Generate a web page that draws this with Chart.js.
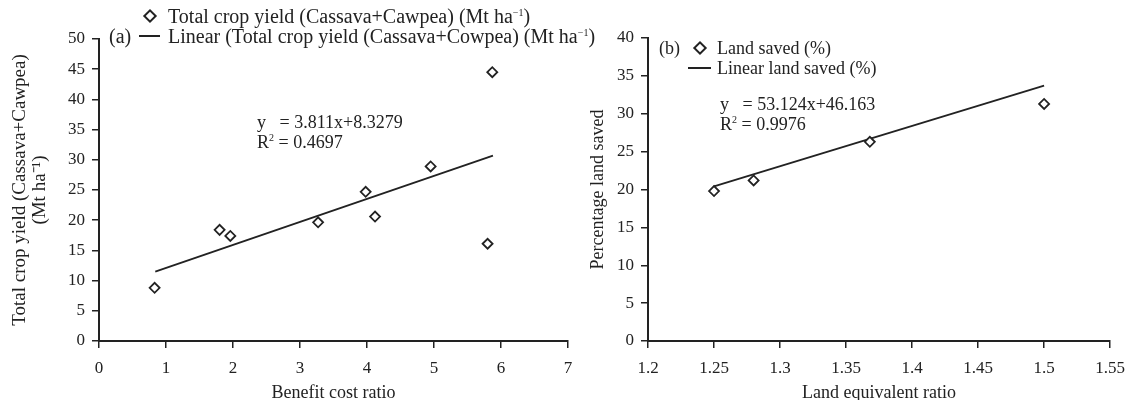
<!DOCTYPE html>
<html>
<head>
<meta charset="utf-8">
<script src="https://cdn.jsdelivr.net/npm/chart.js@4.4.0/dist/chart.umd.min.js"></script>
<style>
    html, body { margin: 0; padding: 0; background: #fff; }
    body {
        width: 1135px; height: 400px; position: relative; overflow: hidden;
        font-family: "Liberation Serif", "Times New Roman", serif; color: #222;
    }
    canvas { position: absolute; top: 0; }
    #chartA { left: 0; }
    #chartB { left: 560px; }
    .txt { position: absolute; font-size: 18px; line-height: 20px; height: 20px; white-space: nowrap; }
    .txt.big { font-size: 20px; }
    .txt sup { font-size: 10px; line-height: 0; vertical-align: 7px; }
    .diamond { position: absolute; width: 6px; height: 6px; border: 2px solid #222; background: #fff; transform: rotate(45deg); }
    .seg { position: absolute; height: 0; border-top: 2px solid #222; }
</style>
</head>
<body>
<canvas id="chartA" width="600" height="400"></canvas>
<canvas id="chartB" width="575" height="400"></canvas>

<!-- leyenda y ecuación (a) -->
<div class="diamond" style="left:145px; top:11px;"></div>
<div class="txt big" style="left:168px; top:6px;">Total crop yield (Cassava+Cawpea) (Mt ha<sup>&minus;1</sup>)</div>
<div class="txt big" style="left:109px; top:26px;">(a)</div>
<div class="seg" style="left:139px; top:35px; width:21px;"></div>
<div class="txt big" style="left:168px; top:26px;">Linear (Total crop yield (Cassava+Cowpea) (Mt ha<sup>&minus;1</sup>)</div>
<div class="txt" style="left:257px; top:112px;">y&nbsp;&nbsp; = 3.811x+8.3279</div>
<div class="txt" style="left:257px; top:132px;">R<sup>2</sup> = 0.4697</div>

<!-- leyenda y ecuación (b) -->
<div class="txt" style="left:659px; top:38px;">(b)</div>
<div class="diamond" style="left:695px; top:43px;"></div>
<div class="txt" style="left:717px; top:38px;">Land saved (%)</div>
<div class="seg" style="left:688px; top:67px; width:23px;"></div>
<div class="txt" style="left:717px; top:58px;">Linear land saved (%)</div>
<div class="txt" style="left:720px; top:94px;">y&nbsp;&nbsp; = 53.124x+46.163</div>
<div class="txt" style="left:720px; top:114px;">R<sup>2</sup> = 0.9976</div>

<script>
// Datos del panel (a): rendimiento total vs relación beneficio/costo
const bcrX = [0.83, 1.80, 1.96, 3.27, 3.98, 4.12, 4.95, 5.80, 5.87];
const yieldY = [8.8, 18.4, 17.4, 19.65, 24.7, 20.6, 28.9, 16.1, 44.5];
const yieldTrendX = [0.84, 5.88];
const yieldTrendY = [11.5, 30.7];
const xTicksA = [0, 1, 2, 3, 4, 5, 6, 7];
const yTicksA = [0, 5, 10, 15, 20, 25, 30, 35, 40, 45, 50];

// Datos del panel (b): tierra ahorrada vs LER
const lerX = [1.25, 1.28, 1.368, 1.50];
const landSavedY = [19.8, 21.2, 26.3, 31.3];
const landTrendX = [1.25, 1.50];
const landTrendY = [20.4, 33.7];
const xTicksB = ['1.2', '1.25', '1.3', '1.35', '1.4', '1.45', '1.5', '1.55'];
const yTicksB = [0, 5, 10, 15, 20, 25, 30, 35, 40];

const ink = '#222';
Chart.defaults.font.family = "'Liberation Serif', 'Times New Roman', serif";
Chart.defaults.color = ink;

function toPoints(xs, ys) {
    return xs.map((x, i) => ({ x: x, y: ys[i] }));
}

function axis(min, max, step, title, extra) {
    return Object.assign({
        type: 'linear',
        min: min,
        max: max,
        border: { display: true, color: ink, width: 2 },
        grid: { display: true, drawOnChartArea: false, drawTicks: true, tickLength: 7, color: ink, lineWidth: 1.5 },
        ticks: { stepSize: step, color: ink, font: { size: 17 } },
        title: { display: true, text: title, color: ink, font: { size: 18 } }
    }, extra);
}

function buildChart(id, cfg) {
    return new Chart(document.getElementById(id), {
        type: 'scatter',
        data: {
            datasets: [{
                data: toPoints(cfg.xs, cfg.ys),
                pointStyle: 'rectRot',
                pointRadius: 5,
                borderWidth: 1.8,
                borderColor: ink,
                backgroundColor: '#fff',
                order: 1
            }, {
                data: toPoints(cfg.trendX, cfg.trendY),
                showLine: true,
                pointRadius: 0,
                borderWidth: 1.8,
                borderColor: ink,
                order: 2
            }]
        },
        options: {
            responsive: false,
            animation: false,
            layout: { padding: cfg.padding },
            plugins: { legend: { display: false }, tooltip: { enabled: false } },
            scales: {
                x: axis(cfg.xMin, cfg.xMax, cfg.xStep, cfg.xTitle, {
                    afterFit: s => { s.height = 59; }
                }),
                y: axis(cfg.yMin, cfg.yMax, 5, cfg.yTitle, {
                    afterFit: s => { s.width = cfg.yWidth; }
                })
            }
        }
    });
}

const chartA = buildChart('chartA', {
    xs: bcrX, ys: yieldY, trendX: yieldTrendX, trendY: yieldTrendY,
    xMin: xTicksA[0], xMax: xTicksA[xTicksA.length - 1], xStep: 1,
    yMin: yTicksA[0], yMax: yTicksA[yTicksA.length - 1],
    xTitle: 'Benefit cost ratio',
    yTitle: ['Total crop yield (Cassava+Cawpea)', '(Mt ha\u207B\u00B9)'],
    yWidth: 99,
    padding: { top: 39, right: 32, bottom: 0, left: 0 }
});

const chartB = buildChart('chartB', {
    xs: lerX, ys: landSavedY, trendX: landTrendX, trendY: landTrendY,
    xMin: parseFloat(xTicksB[0]), xMax: parseFloat(xTicksB[xTicksB.length - 1]), xStep: 0.05,
    yMin: yTicksB[0], yMax: yTicksB[yTicksB.length - 1],
    xTitle: 'Land equivalent ratio',
    yTitle: 'Percentage land saved',
    yWidth: 88,
    padding: { top: 38, right: 16, bottom: 0, left: 0 }
});

// Ajustes finos de títulos y etiquetas
[chartA, chartB].forEach(ch => {
    const sx = ch.options.scales.x, sy = ch.options.scales.y;
    sx.ticks.padding = 10;
    sy.ticks.padding = 7;
    sx.title.font = { size: 18, lineHeight: 0.8 };
    sx.title.padding = 0;
    sy.title.font = { size: 18, lineHeight: 1.13 };
});
chartA.options.scales.y.title.font = { size: 19, lineHeight: 1.074 };
chartA.options.scales.y.title.padding = { top: 9.4, bottom: 0 };
chartB.options.scales.y.title.padding = { top: 28, bottom: 0 };
chartB.options.scales.x.ticks.callback = (v, i) => xTicksB[i];
chartA.update();
chartB.update();
</script>
</body>
</html>
